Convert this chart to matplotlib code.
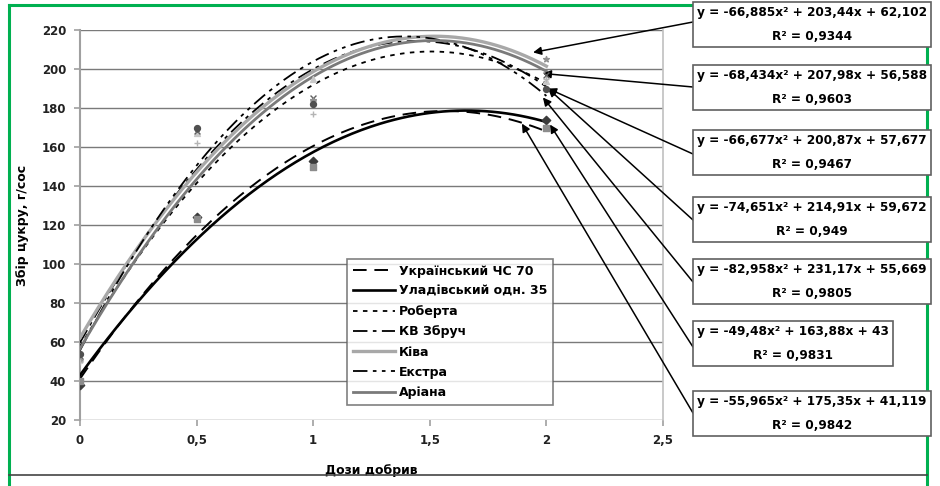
import numpy as np
import matplotlib
matplotlib.use('Agg')
import matplotlib.pyplot as plt
from matplotlib.lines import Line2D

plt.rcParams['font.family'] = ['DejaVu Sans']
plt.rcParams['font.weight'] = 'bold'

# дози добрив і сорти
doses = [0, 0.5, 1, 2]
names = ['Український ЧС 70', 'Уладівський одн. 35', 'Роберта', 'КВ Збруч',
         'Ківа', 'Екстра', 'Аріана']

# виміряні точки (збір цукру, г/сос)
pts_uk = [38, 124, 153, 174]
pts_ul = [40, 123, 150, 170]
pts_rob = [52, 167, 195, 194]
pts_kv = [53, 168, 185, 197]
pts_kiva = [51, 169, 184, 205]
pts_ekstra = [54, 170, 182, 190]
pts_ariana = [50, 162, 177, 195]
points = [pts_uk, pts_ul, pts_rob, pts_kv, pts_kiva, pts_ekstra, pts_ariana]

# коефіцієнти поліноміальних ліній тренду y = a*x^2 + b*x + c
coef_a = [-55.965, -49.48, -66.677, -74.651, -66.885, -82.958, -68.434]
coef_b = [175.35, 163.88, 200.87, 214.91, 203.44, 231.17, 207.98]
coef_c = [41.119, 43, 57.677, 59.672, 62.102, 55.669, 56.588]
r2 = ['0,9842', '0,9831', '0,9467', '0,949', '0,9344', '0,9805', '0,9603']

# стилі ліній і маркерів
line_col = ['black', 'black', 'black', 'black', '#a8a8a8', 'black', '#7a7a7a']
line_dash = [(0, (7, 4)), '-', (0, (2.5, 3)), (0, (8, 3, 2, 3)), '-',
             (0, (8, 3, 2, 3, 2, 3)), '-']
line_w = [1.4, 1.9, 1.3, 1.3, 2.4, 1.3, 2.0]
mk = ['D', 's', '^', 'x', '*', 'o', '+']
mk_col = ['#3c3c3c', '#8c8c8c', '#c8c8c8', '#606060', '#909090', '#505050', '#b4b4b4']

fig = plt.figure(figsize=(9.4, 4.86), dpi=100)
W, H = 940, 486
ax = fig.add_axes([80 / W, 1 - 420 / H, (663 - 80) / W, (420 - 30) / H])

xs = np.linspace(0, 2, 200)
for i in range(len(names)):
    ys = np.polyval([coef_a[i], coef_b[i], coef_c[i]], xs)
    ax.plot(xs, ys, color=line_col[i], linestyle=line_dash[i], lw=line_w[i],
            label=names[i], zorder=3)
    ax.scatter(doses, points[i], marker=mk[i], color=mk_col[i], s=18,
               linewidths=1, zorder=4)

ax.set_xlim(0, 2.5)
ax.set_ylim(20, 220)
ax.set_xticks([0, 0.5, 1, 1.5, 2, 2.5])
ax.set_xticklabels(['0', '0,5', '1', '1,5', '2', '2,5'])
ax.set_yticks(range(20, 221, 20))
ax.yaxis.grid(True, color='#7a7a7a', lw=1)
ax.set_axisbelow(True)
ax.tick_params(labelsize=8.5, colors='#a0a0a0', labelcolor='#222222',
               length=4, width=1.2, pad=6)
for lab in ax.get_xticklabels() + ax.get_yticklabels():
    lab.set_fontweight('bold')
ax.spines['top'].set_visible(False)
ax.spines['bottom'].set_visible(False)
ax.spines['left'].set_color('#a0a0a0')
ax.spines['left'].set_linewidth(1.5)
ax.spines['right'].set_color('#c0c0c0')
ax.spines['right'].set_linewidth(1.2)

ax.set_xlabel('Дози добрив', fontsize=9, fontweight='bold', labelpad=12)
ax.set_ylabel('Збір цукру, г/сос', fontsize=9, fontweight='bold', labelpad=9)

leg = ax.legend(loc='upper left', bbox_to_anchor=(347 / W, 1 - 259 / H),
                bbox_transform=fig.transFigure, frameon=True, fancybox=False,
                fontsize=9, handlelength=3.4, handletextpad=0.3,
                labelspacing=0.58, borderpad=0.45, borderaxespad=0)
leg.get_frame().set_edgecolor('#606060')
leg.get_frame().set_linewidth(1.2)
for t in leg.get_texts():
    t.set_fontweight('bold')

# рамки з рівняннями (зверху вниз) і стрілки до кривих
box_order = [4, 6, 2, 3, 5, 1, 0]
box_top = [2, 65, 130, 197, 259, 321, 391]
arrow_from = [22, 87, 154, 220, 282, 347, 413]
arrow_tip = [(1.943, 208.5), (1.985, 197.7), (2.007, 190.0), (2.007, 190.0),
             (1.985, 185.4), (2.015, 171.5), (1.895, 172.0)]


def num(v):
    return str(v).replace('.', ',')


for k, i in enumerate(box_order):
    txt = 'y = %sx² + %sx + %s\nR² = %s' % (num(coef_a[i]), num(coef_b[i]),
                                            num(coef_c[i]), r2[i])
    fig.text(697 / W, 1 - (box_top[k] + 4) / H, txt, ha='left', va='top',
             multialignment='center', fontsize=8.7, fontweight='bold',
             linespacing=2.1,
             bbox=dict(boxstyle='square,pad=0.35', fc='white', ec='#606060', lw=1.2))
    ax.annotate('', xy=arrow_tip[k], xycoords='data',
                xytext=(693 / W, 1 - arrow_from[k] / H), textcoords='figure fraction',
                arrowprops=dict(arrowstyle='-|>', color='black', lw=1.1,
                                mutation_scale=12, shrinkA=0, shrinkB=0),
                annotation_clip=False)

# зелена рамка та нижня лінія
green = '#00b050'
fig.add_artist(Line2D([9 / W, 927 / W], [1 - 5 / H, 1 - 5 / H], color=green, lw=2.2))
fig.add_artist(Line2D([9 / W, 9 / W], [0, 1 - 5 / H], color=green, lw=2.2))
fig.add_artist(Line2D([927 / W, 927 / W], [0, 1 - 5 / H], color=green, lw=2.2))
fig.add_artist(Line2D([9 / W, 927 / W], [1 - 475 / H, 1 - 475 / H], color='#444444', lw=1.2))

fig.savefig('out.png', dpi=100)
